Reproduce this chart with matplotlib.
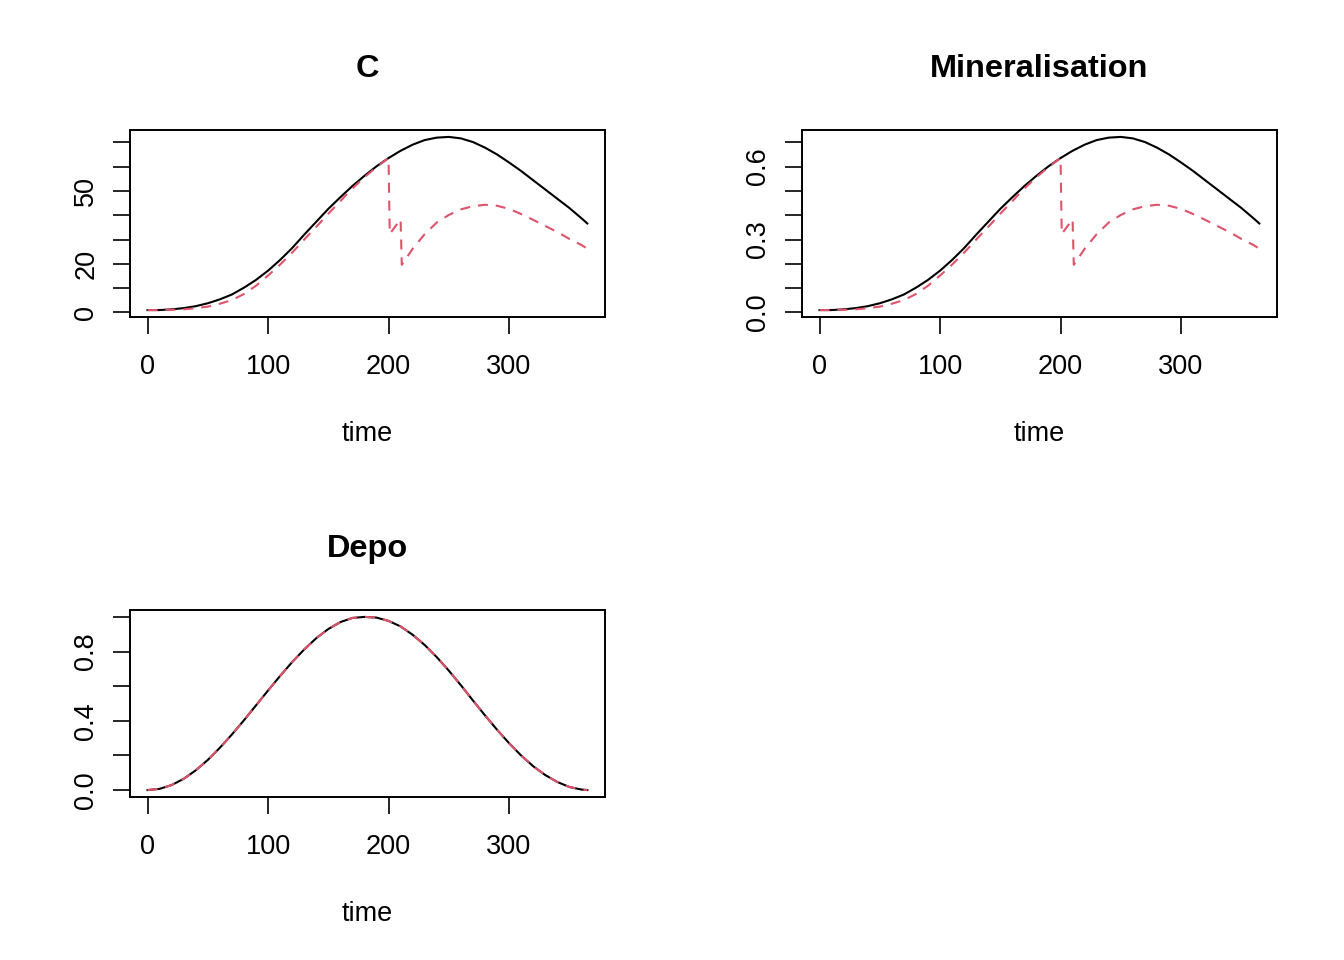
import matplotlib
matplotlib.use('Agg')
import matplotlib.pyplot as plt

plt.rcParams['font.family'] = ['Liberation Sans', 'DejaVu Sans']

# reference run (black, solid)
time = [0, 10, 20, 30, 40, 50, 60, 70, 80, 90, 100, 110, 120, 130, 140, 150, 160,
        170, 180, 190, 200, 210, 220, 230, 240, 250, 260, 270, 280, 290, 300, 310,
        320, 330, 340, 350, 360, 365]
C_ref = [1.0, 1.0, 1.3, 1.8, 2.6, 3.8, 5.4, 7.4, 10.2, 13.4, 17.2, 21.6, 26.5, 32.0,
         37.3, 42.6, 47.4, 52.0, 56.2, 60.1, 63.5, 66.5, 69.0, 70.9, 71.9, 72.2, 71.6,
         70.1, 67.8, 65.0, 61.7, 58.2, 54.4, 50.6, 46.8, 43.0, 38.8, 36.6]
Min_ref = [0.010, 0.010, 0.013, 0.018, 0.026, 0.038, 0.054, 0.074, 0.102, 0.134, 0.172,
           0.216, 0.265, 0.320, 0.373, 0.426, 0.474, 0.520, 0.562, 0.601, 0.635, 0.665,
           0.690, 0.709, 0.719, 0.722, 0.716, 0.701, 0.678, 0.650, 0.617, 0.582, 0.544,
           0.506, 0.468, 0.430, 0.388, 0.366]
Depo_ref = [0.000, 0.007, 0.029, 0.065, 0.114, 0.174, 0.244, 0.321, 0.403, 0.489, 0.575,
            0.659, 0.739, 0.812, 0.877, 0.930, 0.970, 0.994, 1.000, 0.996, 0.977, 0.945,
            0.897, 0.838, 0.768, 0.690, 0.606, 0.518, 0.432, 0.349, 0.271, 0.200, 0.138,
            0.087, 0.047, 0.018, 0.003, 0.000]

# run with events (red, dashed)
time_ev = [0, 10, 20, 30, 40, 50, 60, 70, 80, 90, 100, 110, 120, 130, 140, 150, 160,
           170, 180, 190, 200, 201, 210, 211, 220, 230, 240, 250, 260, 270, 280, 290,
           300, 310, 320, 330, 340, 350, 360, 365]
C_ev = [1.0, 1.0, 1.1, 1.3, 1.8, 2.4, 3.6, 5.1, 7.6, 11.0, 15.2, 19.7, 24.6, 30.0, 35.2,
        40.6, 45.8, 51.0, 55.6, 59.8, 63.5, 32.3, 38.3, 19.6, 26.2, 32.2, 37.0, 40.1,
        42.4, 43.7, 44.3, 43.9, 42.6, 40.5, 38.1, 35.6, 33.1, 30.3, 27.8, 26.2]
Min_ev = [0.010, 0.010, 0.011, 0.013, 0.018, 0.024, 0.036, 0.051, 0.076, 0.110, 0.152,
          0.197, 0.246, 0.300, 0.352, 0.406, 0.458, 0.510, 0.556, 0.598, 0.635, 0.323,
          0.383, 0.196, 0.262, 0.322, 0.370, 0.401, 0.424, 0.437, 0.443, 0.439, 0.426,
          0.405, 0.381, 0.356, 0.331, 0.303, 0.278, 0.262]
Depo_ev = Depo_ref

panels = [
    ('C', C_ref, C_ev, [0, 10, 20, 30, 40, 50, 60, 70],
     ['0', '', '20', '', '', '50', '', '']),
    ('Mineralisation', Min_ref, Min_ev, [0, 0.1, 0.2, 0.3, 0.4, 0.5, 0.6, 0.7],
     ['0.0', '', '', '0.3', '', '', '0.6', '']),
    ('Depo', Depo_ref, Depo_ev, [0, 0.2, 0.4, 0.6, 0.8, 1.0],
     ['0.0', '', '0.4', '', '0.8', '']),
]
boxes = [[0.0967, 0.6698, 0.3534, 0.1948],
         [0.5967, 0.6698, 0.3534, 0.1948],
         [0.0967, 0.1698, 0.3534, 0.1948]]

red = '#DF536B'
fig = plt.figure(figsize=(13.44, 9.6), dpi=100)

for (name, ref, ev, yt, ylab), box in zip(panels, boxes):
    ax = fig.add_axes(box)
    ev_t = time_ev if len(ev) == len(time_ev) else time
    ax.plot(time, ref, color='black', lw=1.5)
    ax.plot(ev_t, ev, color=red, lw=1.5, linestyle=(0, (4.8, 3.8)))
    lo = min(min(ref), min(ev))
    hi = max(max(ref), max(ev))
    r = hi - lo
    ax.set_ylim(lo - 0.04 * r, hi + 0.04 * r)
    ax.set_xlim(-0.04 * 365, 365 * 1.04)
    ax.set_xticks([0, 100, 200, 300])
    ax.set_xticklabels(['0', '100', '200', '300'])
    ax.set_yticks(yt)
    ax.set_yticklabels(ylab, rotation=90, va='center')
    ax.tick_params(axis='both', labelsize=19.5, length=12, width=1.2)
    ax.tick_params(axis='x', pad=15)
    ax.tick_params(axis='y', pad=10)
    for s in ax.spines.values():
        s.set_linewidth(1.4)
    ax.set_title(name, fontsize=23.4, fontweight='bold', pad=38)
    ax.set_xlabel('time', fontsize=19.5, labelpad=29)

fig.savefig('out.png', dpi=100)
